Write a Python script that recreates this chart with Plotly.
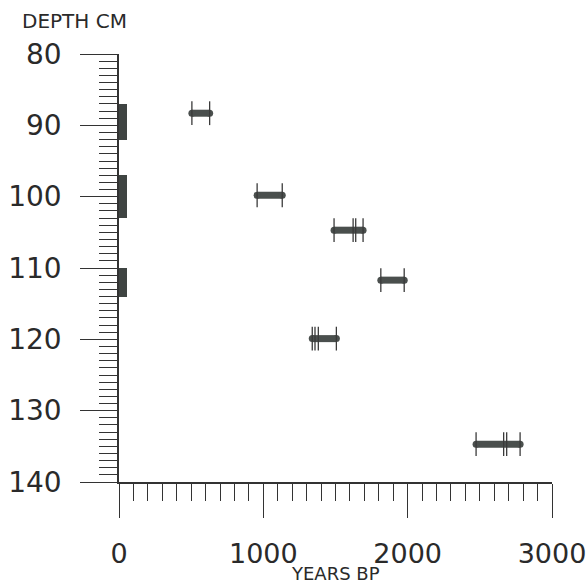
import plotly.graph_objects as go

# ---- data ----
depth_cm = [88.3, 99.8, 104.7, 111.7, 119.9, 134.7]
age_ticks = [
    [505, 628],
    [957, 1131],
    [1490, 1622, 1640, 1691],
    [1814, 1976],
    [1339, 1358, 1381, 1506],
    [2474, 2665, 2686, 2779],
]
sample_top = [87, 97, 110]
sample_bottom = [92, 103, 114]
sample_x = [27.5, 27.5, 27.5]

x_tick_vals = [0, 1000, 2000, 3000]
x_tick_text = ["0", "1000", "2000", "3000"]
y_tick_vals = [80, 90, 100, 110, 120, 130, 140]
y_tick_text = ["80", "90", "100", "110", "120", "130", "140"]

BAR = "#4a4f4d"
INK = "#2a2a2a"
FONT = "DejaVu Sans"

fig = go.Figure()

# sample intervals along depth axis
fig.add_trace(go.Bar(
    x=sample_x,
    y=[b - t for t, b in zip(sample_top, sample_bottom)],
    base=sample_top,
    width=55,
    marker=dict(color="#3f4442", line=dict(width=0)),
    hoverinfo="skip",
))

# dated ranges
for d, ticks in zip(depth_cm, age_ticks):
    lo, hi = min(ticks), max(ticks)
    fig.add_trace(go.Scatter(
        x=[lo, hi], y=[d, d],
        mode="lines+markers",
        line=dict(color=BAR, width=7),
        marker=dict(size=7, color=BAR, line=dict(width=0)),
        cliponaxis=False,
    ))
    fig.add_trace(go.Scatter(
        x=ticks, y=[d] * len(ticks),
        mode="markers",
        marker=dict(symbol="line-ns", size=17, color=INK,
                    line=dict(width=1.3, color="#3a3a3a")),
        cliponaxis=False,
    ))

fig.update_layout(
    width=588, height=586,
    margin=dict(l=119, r=36, t=54, b=104.3),
    plot_bgcolor="white", paper_bgcolor="white",
    showlegend=False,
    bargap=0,
    font=dict(family=FONT, color=INK),
    annotations=[
        dict(text="DEPTH CM", xref="paper", yref="paper",
             x=(20 - 119) / 433, y=(481.7 - 21) / 427.7,
             xanchor="left", yanchor="middle", showarrow=False,
             font=dict(family=FONT, size=20, color=INK)),
        dict(text="YEARS BP", xref="paper", yref="paper",
             x=(335 - 119) / 433, y=(481.7 - 586) / 427.7,
             xanchor="center", yanchor="bottom", showarrow=False,
             font=dict(family=FONT, size=18, color=INK)),
    ],
)

fig.update_xaxes(
    range=[0, 3000], automargin=False,
    showgrid=False, zeroline=False,
    showline=True, linecolor="#333", linewidth=1.5,
    tickmode="array", tickvals=x_tick_vals, ticktext=x_tick_text,
    ticks="outside", ticklen=34, tickwidth=1.3, tickcolor="#333",
    ticklabelstandoff=13,
    tickfont=dict(family=FONT, size=27, color=INK),
    minor=dict(dtick=100, tick0=0, ticks="outside", ticklen=17,
               tickwidth=1.3, tickcolor="#333", showgrid=False),
)
fig.update_yaxes(
    range=[140, 80], automargin=False,
    showgrid=False, zeroline=False,
    showline=True, linecolor="#333", linewidth=1.5,
    tickmode="array", tickvals=y_tick_vals, ticktext=y_tick_text,
    ticks="outside", ticklen=37, tickwidth=1.3, tickcolor="#333",
    ticklabelstandoff=13,
    tickfont=dict(family=FONT, size=28, color=INK),
    minor=dict(dtick=1, tick0=80, ticks="outside", ticklen=18,
               tickwidth=1.3, tickcolor="#333", showgrid=False),
)

fig.write_html("out.html",
               config={"displayModeBar": False},
               post_script="document.body.style.margin='0';document.body.style.overflow='hidden';")
